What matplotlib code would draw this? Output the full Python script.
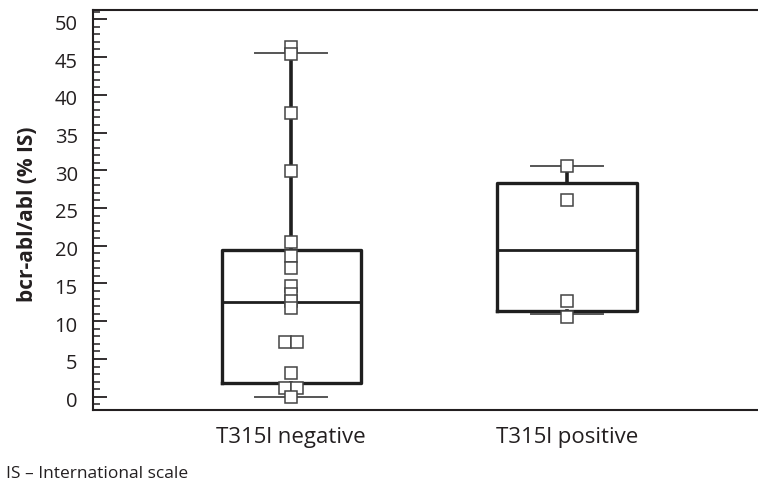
import matplotlib
matplotlib.use("Agg")
import matplotlib.pyplot as plt
import matplotlib.transforms as mtransforms
from matplotlib.ticker import MultipleLocator

plt.rcParams['font.family'] = ['Open Sans', 'DejaVu Sans']

categories = ["T315l negative", "T315l positive"]
points_neg = [46.3, 45.4, 37.6, 29.9, 20.5, 18.6, 17.0, 14.7, 13.6, 12.7, 11.7,
              7.3, 7.3, 3.2, 1.2, 1.2, 0.0]
points_pos = [30.5, 26.0, 12.7, 10.6]
whislo = [0.0, 11.0]
q1 = [1.85, 11.4]
med = [12.6, 19.4]
q3 = [19.4, 28.3]
whishi = [45.5, 30.6]
points = [points_neg, points_pos]
ylabel = "bcr-abl/abl (% IS)"
footnote = "IS \u2013 International scale"

fig = plt.figure(figsize=(7.58, 4.84), dpi=100)
ax = fig.add_axes([93/758, 1 - 410/484, 1 - 93/758 + 0.01, (410 - 10)/484])

positions = [1, 2]
stats = []
for i in range(2):
    stats.append(dict(label=categories[i], whislo=whislo[i], q1=q1[i], med=med[i],
                      q3=q3[i], whishi=whishi[i], fliers=[]))

ax.bxp(stats, positions=positions, widths=0.505, showfliers=False,
       boxprops=dict(color='#1f1f1f', linewidth=2.4),
       medianprops=dict(color='#1f1f1f', linewidth=2.0),
       whiskerprops=dict(color='#1f1f1f', linewidth=2.6),
       capprops=dict(color='#555555', linewidth=1.4),
       capwidths=0.26, zorder=2)

# place points, spreading duplicate values side by side
for pos, vals in zip(positions, points):
    xs, ys = [], []
    counts = {}
    for v in vals:
        counts[v] = counts.get(v, 0) + 1
    seen = {}
    for v in vals:
        n = counts[v]
        k = seen.get(v, 0)
        seen[v] = k + 1
        off = (k - (n - 1) / 2) * 0.045
        xs.append(pos + off)
        ys.append(v)
    ax.plot(xs, ys, linestyle='none', marker='s', markersize=8.0,
            markerfacecolor='white', markeredgecolor='#444444',
            markeredgewidth=1.1, zorder=5)

ax.set_xlim(1 - 199.7/278, 2 + 200/278)
ax.set_ylim(-1.76, 51.23)
ax.set_xticks(positions)
ax.set_xticklabels(categories, fontsize=16)
ax.tick_params(axis='x', length=0, pad=12, colors='#231f20')
ax.yaxis.set_major_locator(MultipleLocator(5))
ax.yaxis.set_minor_locator(MultipleLocator(1))
ax.tick_params(axis='y', which='major', direction='in', length=10, width=1.3,
               labelsize=14.5, pad=11, colors='#231f20')
ax.tick_params(axis='y', which='minor', direction='in', length=5, width=1.1,
               colors='#231f20')

offset = mtransforms.ScaledTranslation(0, -3/100, fig.dpi_scale_trans)
for lab in ax.get_yticklabels():
    lab.set_transform(lab.get_transform() + offset)

ax.spines['right'].set_visible(False)
for s in ['left', 'top', 'bottom']:
    ax.spines[s].set_linewidth(1.5)
    ax.spines[s].set_color('#231f20')

ax.set_ylabel(ylabel, fontsize=15, fontweight='bold', color='#231f20')
ax.yaxis.set_label_coords(-0.082, 0.49)

fig.text(0.008, 1 - 478/484, footnote, fontsize=12.5, color='#231f20',
         ha='left', va='baseline')

fig.savefig("out.png", dpi=100)
